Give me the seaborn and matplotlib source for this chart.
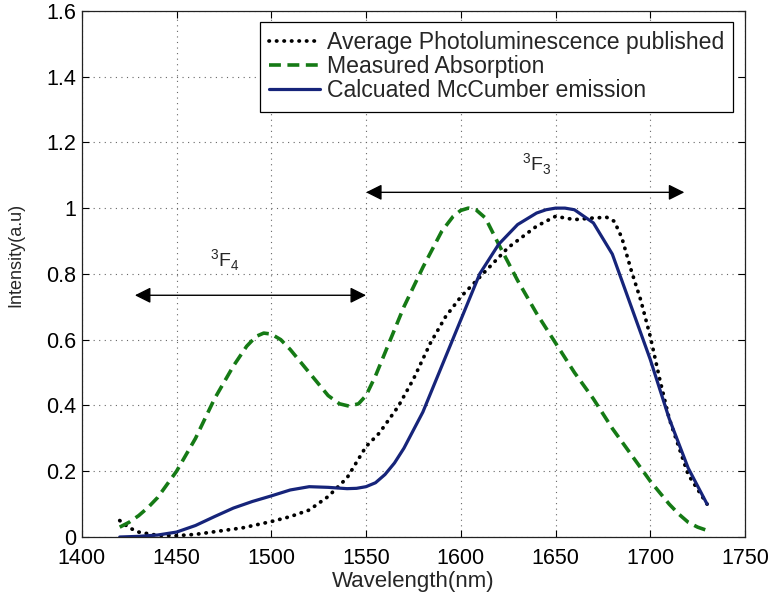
import matplotlib
matplotlib.use("Agg")
import matplotlib.pyplot as plt
import seaborn as sns
import pandas as pd

# wavelength grid (nm) and intensities
wl_abs = [1420, 1425, 1430, 1435, 1440, 1450, 1460, 1470, 1480, 1487, 1492, 1496, 1500,
          1505, 1510, 1520, 1530, 1536, 1541, 1546, 1550, 1555, 1560, 1570, 1580, 1590,
          1596, 1600, 1604, 1608, 1613, 1620, 1630, 1640, 1650, 1660, 1670, 1680, 1690,
          1700, 1710, 1715, 1720, 1725, 1730]
absorption = [0.03, 0.045, 0.065, 0.09, 0.12, 0.20, 0.30, 0.42, 0.52, 0.58, 0.61, 0.62, 0.617,
              0.60, 0.57, 0.50, 0.43, 0.405, 0.398, 0.405, 0.43, 0.49, 0.56, 0.70, 0.82, 0.93,
              0.975, 0.993, 1.0, 0.995, 0.97, 0.89, 0.78, 0.68, 0.59, 0.50, 0.42, 0.33, 0.25,
              0.17, 0.10, 0.07, 0.045, 0.03, 0.02]

wl_mc = [1420, 1430, 1440, 1450, 1460, 1470, 1480, 1490, 1500, 1510, 1520, 1530,
         1540, 1545, 1550, 1555, 1560, 1565, 1570, 1580, 1590, 1600, 1610, 1620, 1630,
         1640, 1645, 1650, 1655, 1660, 1670, 1680, 1690, 1700, 1710, 1720, 1730]
mccumber = [0.0, 0.002, 0.006, 0.015, 0.035, 0.062, 0.088, 0.108, 0.125, 0.143, 0.153, 0.151,
            0.147, 0.148, 0.153, 0.165, 0.19, 0.225, 0.27, 0.38, 0.52, 0.66, 0.80, 0.89, 0.95,
            0.985, 0.995, 1.0, 1.0, 0.995, 0.955, 0.86, 0.70, 0.54, 0.36, 0.21, 0.10]

wl_pl = [1420, 1425, 1430, 1440, 1450, 1460, 1470, 1485, 1500, 1510, 1520, 1530, 1540,
         1550, 1557, 1567, 1575, 1584, 1592, 1600, 1610, 1625, 1640, 1650, 1660, 1670,
         1677, 1681, 1685, 1690, 1695, 1700, 1705, 1710, 1720, 1730]
photolum = [0.05, 0.028, 0.015, 0.005, 0.004, 0.008, 0.016, 0.028, 0.047, 0.062, 0.082, 0.123,
            0.18, 0.275, 0.316, 0.397, 0.48, 0.59, 0.67, 0.73, 0.79, 0.88, 0.945, 0.975, 0.965,
            0.97, 0.972, 0.96, 0.91, 0.81, 0.72, 0.61, 0.48, 0.36, 0.19, 0.10]

sns.set_style("ticks")
plt.rcParams["font.family"] = ["Liberation Sans", "DejaVu Sans"]
plt.rcParams["mathtext.fontset"] = "custom"
plt.rcParams["mathtext.rm"] = "Liberation Sans"

fig, ax = plt.subplots(figsize=(7.72, 5.99), dpi=100)
fig.subplots_adjust(left=0.106, right=0.965, bottom=0.1035, top=0.982)

sns.lineplot(x=wl_pl, y=photolum, ax=ax, color="black", linewidth=2.7,
             label="Average Photoluminescence published")
ax.lines[-1].set_dashes([0.1, 1.9])
ax.lines[-1].set_dash_capstyle("round")
sns.lineplot(x=wl_abs, y=absorption, ax=ax, color="#157a15", linewidth=2.6,
             label="Measured Absorption")
ax.lines[-1].set_dashes([3.3, 1.8])
sns.lineplot(x=wl_mc, y=mccumber, ax=ax, color="#16247a", linewidth=2.3,
             label="Calcuated McCumber emission")

ax.set_xlim(1400, 1750)
ax.set_ylim(0, 1.6)
ax.set_xticks(range(1400, 1751, 50))
ax.set_yticks([0, 0.2, 0.4, 0.6, 0.8, 1, 1.2, 1.4, 1.6])
ax.set_yticklabels(["0", "0.2", "0.4", "0.6", "0.8", "1", "1.2", "1.4", "1.6"])
ax.tick_params(direction="in", top=True, right=True, labelsize=15.5, length=5,
               colors="black")
ax.tick_params(axis="x", pad=8)
ax.tick_params(axis="y", pad=4)
ax.grid(True, linestyle=(0, (1, 4)), color="#666666", linewidth=0.8)
for s in ax.spines.values():
    s.set_linewidth(0.9)
    s.set_color("#222222")

ax.set_xlabel("Wavelength(nm)", fontsize=16, labelpad=1)
ax.set_ylabel("Intensity(a.u)", fontsize=13)
ax.yaxis.set_label_coords(-0.086, 0.536)

# band arrows
ax.annotate("", xy=(1428, 0.735), xytext=(1550, 0.735),
            arrowprops=dict(arrowstyle="<|-|>", color="black", lw=1, mutation_scale=24,
                            shrinkA=0, shrinkB=0))
ax.annotate("", xy=(1550, 1.048), xytext=(1718, 1.048),
            arrowprops=dict(arrowstyle="<|-|>", color="black", lw=1, mutation_scale=24,
                            shrinkA=0, shrinkB=0))
ax.text(1475.5, 0.823, r"$^3$F$_4$", fontsize=14, ha="center")
ax.text(1640, 1.112, r"$^3$F$_3$", fontsize=14, ha="center")

leg = ax.legend(loc="upper right", bbox_to_anchor=(0.982, 0.979), fontsize=16.6,
                frameon=True, fancybox=False, handlelength=2.2, handletextpad=0.3,
                borderpad=0.4, labelspacing=0.05, borderaxespad=0)
leg.get_frame().set_edgecolor("black")
leg.get_frame().set_linewidth(0.9)
leg.get_frame().set_alpha(1)

fig.savefig("out.png", dpi=100)
